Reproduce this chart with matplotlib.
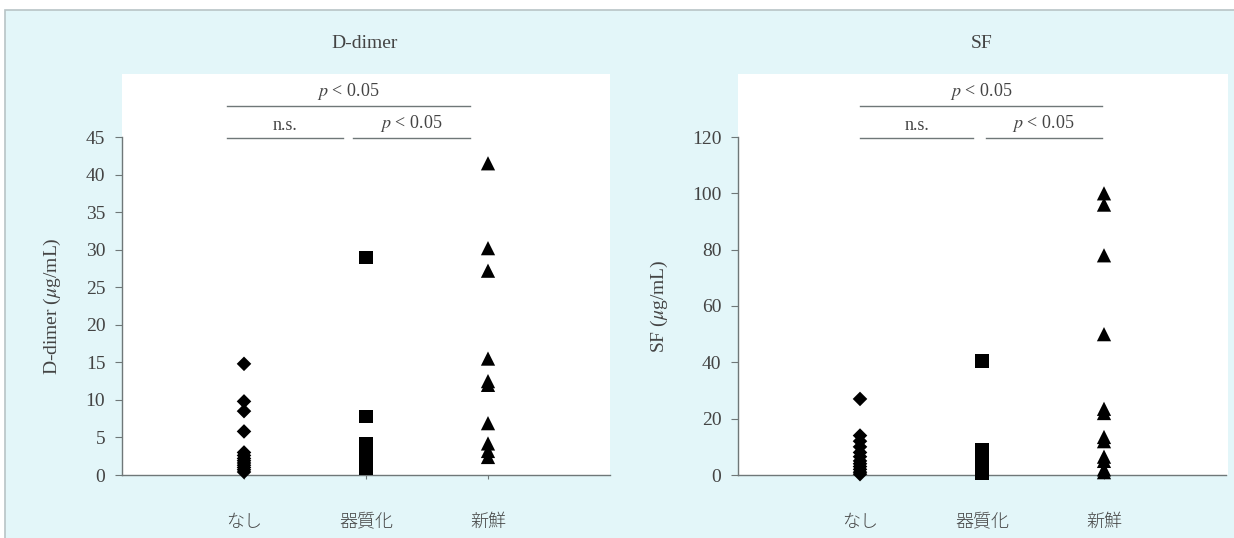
import matplotlib.pyplot as plt
from matplotlib.patches import Rectangle

plt.rcParams['font.family'] = ['Liberation Serif', 'Noto Sans CJK JP']
plt.rcParams['mathtext.fontset'] = 'stix'

groups = ['なし', '器質化', '新鮮']

# D-dimer (ug/mL)
dd_nashi = [14.8, 9.8, 8.5, 5.8, 3.0, 2.6, 2.2, 1.9, 1.6, 1.3, 1.0, 0.7, 0.4]
dd_kishitsu = [29.0, 7.8, 4.2, 3.8, 3.4, 3.0, 2.5, 2.0, 1.6, 1.2, 0.9]
dd_shinsen = [41.5, 30.2, 27.2, 15.5, 12.5, 12.0, 6.9, 4.2, 3.2, 2.4]

# SF (ug/mL)
sf_nashi = [27.0, 14.0, 12.0, 10.0, 8.0, 6.5, 5.0, 4.0, 3.0, 2.0, 1.0, 0.3]
sf_kishitsu = [40.5, 9.0, 8.0, 7.0, 6.0, 5.0, 4.0, 3.0, 2.0, 1.0, 0.5]
sf_shinsen = [100.0, 96.0, 78.0, 50.0, 23.5, 22.0, 13.5, 12.0, 6.5, 5.0, 2.0, 1.0]

W, H = 1234, 538
fig = plt.figure(figsize=(W / 100, H / 100), dpi=100)
fig.patch.set_facecolor('white')

# cyan page background and white plot panels (pixel coords)
def px_rect(x0, y0, x1, y1, **kw):
    fig.patches.append(Rectangle((x0 / W, 1 - y1 / H), (x1 - x0) / W, (y1 - y0) / H,
                                 transform=fig.transFigure, figure=fig, zorder=-5, **kw))

px_rect(5, 10, 1240, 545, facecolor='#e3f6f9', edgecolor='#b8c4c6', lw=1.2)
px_rect(122, 74, 610, 475, facecolor='white', edgecolor='none')
px_rect(738, 74, 1228, 475, facecolor='white', edgecolor='none')

txt = '#444444'
ax1 = fig.add_axes([122 / W, 1 - 475 / H, (610 - 122) / W, (475 - 137) / H])
ax2 = fig.add_axes([738 / W, 1 - 475 / H, (1226 - 738) / W, (475 - 137) / H])


def panel(ax, data, ymax, ystep, title, title_x, ylabel, bars):
    ax.set_facecolor('none')
    markers = ['D', 's', '^']
    sizes = [55, 90, 105]
    for i, (vals, m, s) in enumerate(zip(data, markers, sizes)):
        ax.scatter([i + 1] * len(vals), vals, marker=m, s=s, color='black',
                   edgecolors='none', clip_on=False, zorder=3)
    ax.set_xlim(0, 4)
    ax.set_ylim(0, ymax)
    ax.set_yticks(range(0, ymax + 1, ystep))
    ax.set_xticks([1, 2, 3])
    ax.set_xticklabels(groups, family=['Noto Sans CJK JP'], fontsize=13, color=txt,
                       fontweight='light')
    for sp in ['top', 'right']:
        ax.spines[sp].set_visible(False)
    for sp in ['left', 'bottom']:
        ax.spines[sp].set_color('#6f7778')
        ax.spines[sp].set_linewidth(1.0)
    ax.tick_params(axis='y', length=5, color='#6f7778', labelsize=14, labelcolor=txt, pad=7)
    ax.tick_params(axis='x', length=3, color='#6f7778', pad=24)
    fig.text(title_x / W, 1 - 44 / H, title, ha='center', va='center',
             fontsize=14, color=txt)
    ax.set_ylabel(ylabel, fontsize=14, color=txt, labelpad=16)
    # significance bars
    unit = ymax / 338.0
    for (x0, x1, yp, label) in bars:
        y = ymax + (137 - yp) * unit
        ax.plot([x0, x1], [y, y], color='#6f7778', lw=1.0, clip_on=False)
        ax.text((x0 + x1) / 2, y + 4 * unit, label, ha='center', va='bottom',
                fontsize=13, color=txt)


panel(ax1, [dd_nashi, dd_kishitsu, dd_shinsen], 45, 5, 'D-dimer', 365,
      r'D-dimer ($\mu$g/mL)',
      [(0.86, 2.85, 106, r'$p$ < 0.05'),
       (0.86, 1.81, 138, 'n.s.'),
       (1.89, 2.85, 138, r'$p$ < 0.05')])
panel(ax2, [sf_nashi, sf_kishitsu, sf_shinsen], 120, 20, 'SF', 982,
      r'SF ($\mu$g/mL)',
      [(1.0, 2.98, 106, r'$p$ < 0.05'),
       (1.0, 1.93, 138, 'n.s.'),
       (2.03, 2.98, 138, r'$p$ < 0.05')])

fig.savefig('out.png', dpi=100)
